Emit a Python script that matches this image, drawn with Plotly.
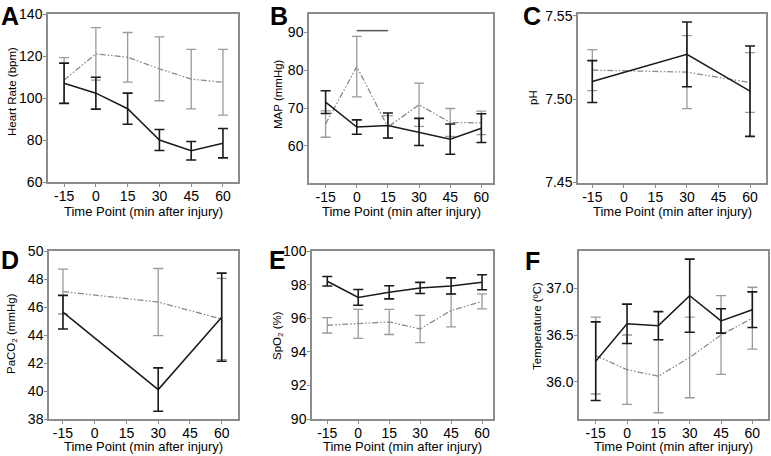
import plotly.graph_objects as go

W, H = 771, 456

time_points = [-15, 0, 15, 30, 45, 60]
blood_times = [-15, 30, 60]
x_tick_labels = ["-15", "0", "15", "30", "45", "60"]
x_title = "Time Point (min after injury)"

# A: Heart rate (bpm)
hr_solid = [107.0, 102.3, 94.9, 80.0, 74.9, 78.5]
hr_solid_err = [9.6, 7.6, 7.4, 5.0, 4.4, 7.0]
hr_dash = [108.5, 121.0, 119.4, 113.9, 109.0, 107.5]
hr_dash_err = [10.7, 12.5, 11.8, 15.2, 14.2, 15.7]

# B: MAP (mmHg)
map_solid = [71.6, 65.0, 65.4, 63.7, 61.8, 64.7]
map_solid_err = [3.0, 1.9, 3.3, 3.6, 4.0, 3.8]
map_dash = [65.8, 81.0, 65.0, 70.9, 66.2, 66.1]
map_dash_err = [3.5, 8.0, 3.0, 5.7, 3.7, 3.1]
sig_x = [0, 15]
sig_y = [90.5, 90.5]

# C: pH
ph_solid = [7.5105, 7.5269, 7.5047]
ph_solid_err = [0.0126, 0.0195, 0.0272]
ph_dash = [7.5174, 7.5162, 7.5099]
ph_dash_err = [0.0124, 0.0220, 0.0180]

# D: PaCO2 (mmHg)
paco2_solid = [45.63, 40.1, 45.27]
paco2_solid_err = [1.2, 1.55, 3.15]
paco2_dash = [47.1, 46.35, 45.14]
paco2_dash_err = [1.6, 2.4, 2.9]

# E: SpO2 (%)
spo2_solid = [98.2, 97.24, 97.54, 97.8, 97.92, 98.14]
spo2_solid_err = [0.28, 0.47, 0.39, 0.33, 0.48, 0.45]
spo2_dash = [95.58, 95.66, 95.78, 95.36, 96.46, 97.0]
spo2_dash_err = [0.46, 0.86, 0.75, 0.81, 0.98, 0.45]

# F: Temperature (ºC)
temp_solid = [36.22, 36.62, 36.60, 36.92, 36.65, 36.77]
temp_solid_err = [0.42, 0.21, 0.15, 0.39, 0.13, 0.19]
temp_dash = [36.28, 36.13, 36.06, 36.26, 36.50, 36.68]
temp_dash_err = [0.41, 0.37, 0.39, 0.43, 0.42, 0.33]

FONT = "Liberation Sans, Arial, sans-serif"
SOLID_C = "#1a1a1a"
DASH_C = "#8a8a8a"
AX_C = "#8c8c8c"


def px_x(p):
    return p / W


def px_y(p):
    return 1 - p / H


panels = [
    dict(letter="A", x=time_points, s=hr_solid, se=hr_solid_err, d=hr_dash, de=hr_dash_err,
         box=(48, 238, 14, 182), xr=[-22.6, 67.1], yr=[60, 140], yt=[60, 80, 100, 120, 140],
         ylab=["60", "80", "100", "120", "140"], ytitle="Heart Rate (bpm)",
         lpos=(-1, 0), ytpos=(12, 92), xtpos=211),
    dict(letter="B", x=time_points, s=map_solid, se=map_solid_err, d=map_dash, de=map_dash_err,
         box=(309, 493, 14, 183), xr=[-23, 65.6], yr=[50.2, 94.9], yt=[60, 70, 80, 90],
         ylab=["60", "70", "80", "90"], ytitle="MAP (mmHg)",
         lpos=(268, 0), ytpos=(278, 94), xtpos=211),
    dict(letter="C", x=blood_times, s=ph_solid, se=ph_solid_err, d=ph_dash, de=ph_dash_err,
         box=(578, 766, 14, 183), xr=[-21.8, 67.6], yr=[7.4494, 7.5512], yt=[7.45, 7.50, 7.55],
         ylab=["7.45", "7.50", "7.55"], ytitle="pH",
         lpos=(521, 0), ytpos=(533, 98), xtpos=211),
    dict(letter="D", x=blood_times, s=paco2_solid, se=paco2_solid_err, d=paco2_dash, de=paco2_dash_err,
         box=(49, 238, 251, 419), xr=[-21.6, 67.7], yr=[38, 50], yt=[38, 40, 42, 44, 46, 48, 50],
         ylab=["38", "40", "42", "44", "46", "48", "50"], ytitle="PaCO<sub>2</sub> (mmHg)",
         lpos=(-1, 244), ytpos=(12, 334), xtpos=446),
    dict(letter="E", x=time_points, s=spo2_solid, se=spo2_solid_err, d=spo2_dash, de=spo2_dash_err,
         box=(312, 493, 251, 419), xr=[-22.4, 65.3], yr=[90, 100], yt=[90, 92, 94, 96, 98, 100],
         ylab=["90", "92", "94", "96", "98", "100"], ytitle="SpO<sub>2</sub> (%)",
         lpos=(267, 244), ytpos=(278, 336), xtpos=446),
    dict(letter="F", x=time_points, s=temp_solid, se=temp_solid_err, d=temp_dash, de=temp_dash_err,
         box=(579, 768, 251, 419), xr=[-23, 67.5], yr=[35.603, 37.397], yt=[36.0, 36.5, 37.0],
         ylab=["36.0", "36.5", "37.0"], ytitle="Temperature (ºC)",
         lpos=(523, 245), ytpos=(537, 326), xtpos=446),
]

fig = go.Figure()
layout = dict(
    width=W, height=H, margin=dict(l=0, r=0, t=0, b=0),
    paper_bgcolor="white", plot_bgcolor="white", showlegend=False,
    font=dict(family=FONT, color="black"),
)
annotations = []

for i, p in enumerate(panels):
    n = "" if i == 0 else str(i + 1)
    xa, ya = "x" + n, "y" + n
    x0, x1, y0, y1 = p["box"]
    fig.add_trace(go.Scatter(
        x=p["x"], y=p["d"], xaxis=xa, yaxis=ya, mode="lines",
        line=dict(color=DASH_C, width=1.3, dash="6px,2px,1.5px,2px,1.5px,2px"),
        error_y=dict(type="data", array=p["de"], visible=True, color="#9a9a9a", thickness=1.3, width=5),
    ))
    fig.add_trace(go.Scatter(
        x=p["x"], y=p["s"], xaxis=xa, yaxis=ya, mode="lines",
        line=dict(color=SOLID_C, width=1.5),
        error_y=dict(type="data", array=p["se"], visible=True, color=SOLID_C, thickness=1.6, width=5),
    ))
    if p["letter"] == "B":
        fig.add_trace(go.Scatter(x=sig_x, y=sig_y, xaxis=xa, yaxis=ya, mode="lines",
                                 line=dict(color="#555555", width=1.5)))
    common = dict(showline=True, linecolor=AX_C, linewidth=1.5, mirror=True, ticks="outside",
                  tickcolor=AX_C, tickwidth=1, showgrid=False, zeroline=False,
                  tickfont=dict(size=14, color="black", family=FONT), automargin=False)
    layout["xaxis" + n] = dict(
        common, domain=[px_x(x0), px_x(x1)], range=p["xr"], anchor=ya, ticklen=3,
        ticklabelstandoff=-3, tickmode="array", tickvals=time_points, ticktext=x_tick_labels,
    )
    layout["yaxis" + n] = dict(
        common, domain=[px_y(y1), px_y(y0)], range=p["yr"], anchor=xa, ticklen=3,
        ticklabelstandoff=-2, tickmode="array", tickvals=p["yt"], ticktext=p["ylab"],
    )
    lx, ly = p["lpos"]
    annotations.append(dict(
        text="<b>%s</b>" % p["letter"], x=px_x(lx), y=px_y(ly), xref="paper", yref="paper",
        xanchor="left", yanchor="top", showarrow=False,
        font=dict(size=25, family=FONT, color="black"),
    ))
    annotations.append(dict(
        text=x_title, x=px_x((x0 + x1) / 2), y=px_y(p["xtpos"]), xref="paper", yref="paper",
        xanchor="center", yanchor="middle", showarrow=False,
        font=dict(size=13, family=FONT, color="black"),
    ))
    tx, ty = p["ytpos"]
    annotations.append(dict(
        text=p["ytitle"], x=px_x(tx), y=px_y(ty), xref="paper", yref="paper", textangle=-90,
        xanchor="center", yanchor="middle", showarrow=False,
        font=dict(size=11.5, family=FONT, color="black"),
    ))

layout["annotations"] = annotations
fig.update_layout(**layout)
fig.write_html("out.html", post_script="document.body.style.margin='0';",
               config={"displayModeBar": False})
